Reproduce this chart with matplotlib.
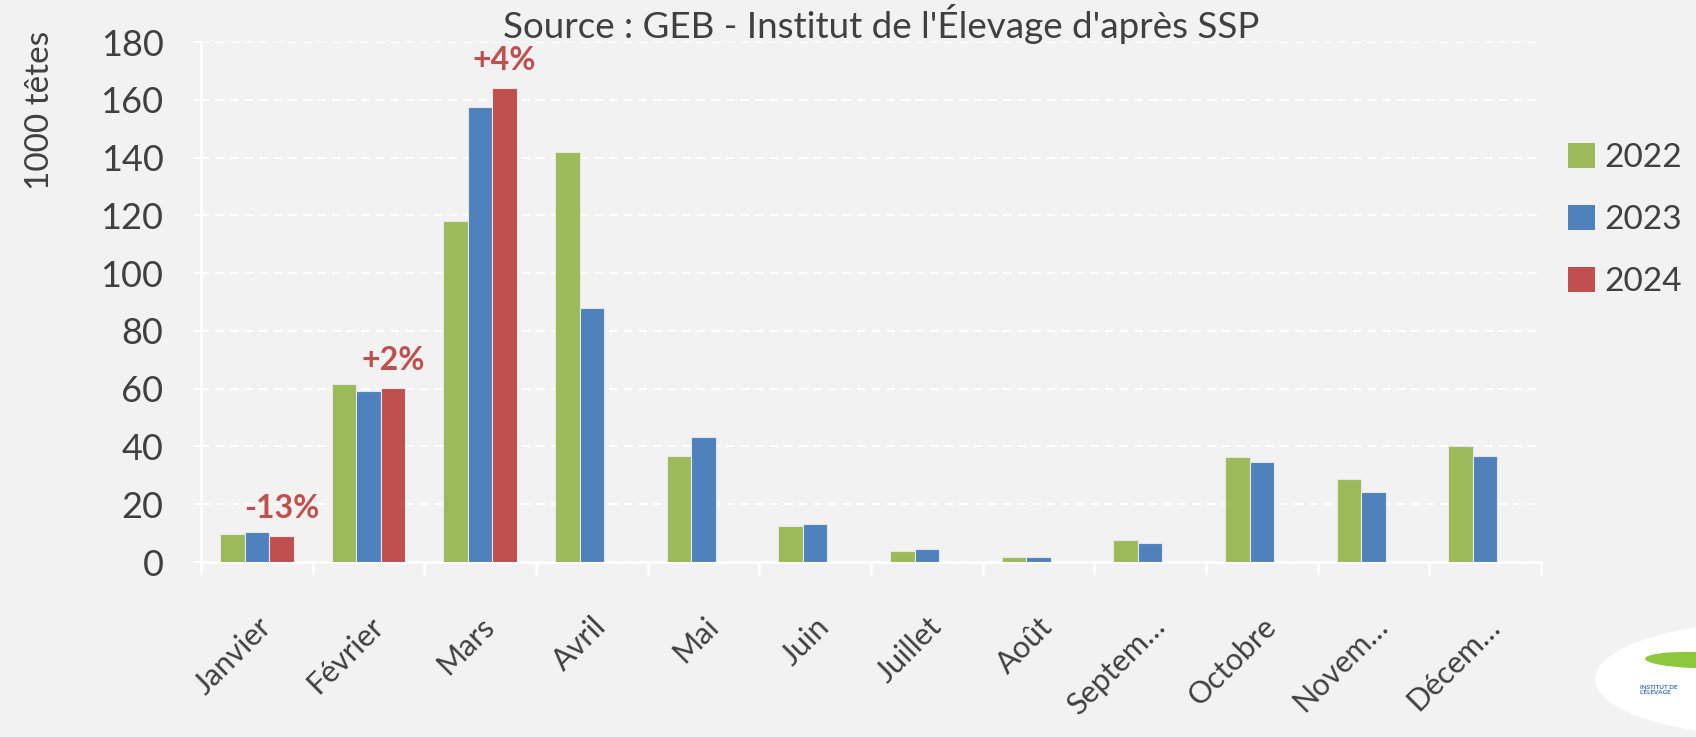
import numpy as np
import matplotlib.pyplot as plt
from matplotlib.patches import Patch, Ellipse

plt.rcParams['font.family'] = ['Lato', 'DejaVu Sans']

# données (1000 têtes)
mois = ['Janvier', 'Février', 'Mars', 'Avril', 'Mai', 'Juin', 'Juillet', 'Août',
        'Septem…', 'Octobre', 'Novem…', 'Décem…']
annees = ['2022', '2023', '2024']
v2022 = [9.7, 61.7, 118.0, 141.9, 36.8, 12.5, 3.8, 1.6, 7.5, 36.2, 28.6, 40.0]
v2023 = [10.4, 59.1, 157.6, 87.8, 43.4, 13.0, 4.4, 1.6, 6.5, 34.6, 24.3, 36.8]
v2024 = [9.0, 60.1, 164.0, np.nan, np.nan, np.nan, np.nan, np.nan, np.nan, np.nan, np.nan, np.nan]
evol = ['-13%', '+2%', '+4%']

couleurs = ['#9BBB59', '#4F81BD', '#C0504D']
fond = '#F2F2F2'
gris = '#404040'

fig = plt.figure(figsize=(16.96, 7.37), dpi=100, facecolor=fond)
ax = fig.add_axes([201/1696, 1 - 562/737, 1340/1696, 520/737])
ax.set_facecolor(fond)

x = np.arange(len(mois))
w = 0.22
series = [v2022, v2023, v2024]
for i, (vals, c) in enumerate(zip(series, couleurs)):
    ax.bar(x + (i - 1) * w, vals, w, color=c, edgecolor='#e6e6e6', linewidth=0.8, zorder=3)

# étiquettes d'évolution au-dessus des barres 2024
for i, txt in enumerate(evol):
    ax.annotate(txt, (x[i] + w, v2024[i]), xytext=(0, 20), textcoords='offset points',
                ha='center', va='center', fontsize=23, fontweight='bold', color=couleurs[2])

ax.set_xlim(-0.5, len(mois) - 0.5)
ax.set_ylim(0, 180)
ax.set_yticks(np.arange(0, 181, 20))
ax.yaxis.grid(True, color='white', linestyle=(0, (4, 3)), linewidth=1.5, zorder=0)

for s in ['top', 'right']:
    ax.spines[s].set_visible(False)
for s in ['left', 'bottom']:
    ax.spines[s].set_color('white')
    ax.spines[s].set_linewidth(2)

ax.set_xticks(x)
ax.set_xticklabels(mois, rotation=45, ha='right', rotation_mode='anchor', fontsize=22, color=gris)
ax.set_xticks(np.arange(-0.5, len(mois), 1), minor=True)
ax.tick_params(axis='x', which='major', length=0, pad=36)
ax.tick_params(axis='x', which='minor', length=9, width=2, color='white')
ax.tick_params(axis='y', which='major', length=5, width=1.5, color='white', labelsize=26,
               labelcolor=gris, pad=22)

fig.text(40/1696, 1 - 110/737, '1000 têtes', rotation=90, ha='center', va='center',
         fontsize=24, color=gris)
fig.text(881/1696, 1 - 24/737, "Source : GEB - Institut de l'Élevage d'après SSP",
         ha='center', va='center', fontsize=26.5, color=gris)

handles = [Patch(facecolor=c, edgecolor='none') for c in couleurs]
fig.legend(handles, annees, loc='center left', bbox_to_anchor=(1568/1696, 1 - 220/737),
           frameon=False, fontsize=24, handlelength=0.8, handleheight=0.8,
           handletextpad=0.3, labelspacing=0.95, borderpad=0, borderaxespad=0,
           labelcolor=gris)

# logo (coin inférieur droit)
fig.patches.append(Ellipse((1775/1696, 1 - 679/737), 360/1696, 115/737,
                           transform=fig.transFigure, facecolor='white', edgecolor='none'))
fig.patches.append(Ellipse((1695/1696, 1 - 660/737), 100/1696, 16/737, angle=-4,
                           transform=fig.transFigure, facecolor='#8DC63F', edgecolor='none'))
fig.text(1640/1696, 1 - 690/737, "INSTITUT DE\nL'ÉLEVAGE", fontsize=4.5, fontweight='bold',
         color='#2E6DB4', ha='left', va='center', linespacing=1.0)

fig.savefig('out.png', dpi=100, facecolor=fond)
